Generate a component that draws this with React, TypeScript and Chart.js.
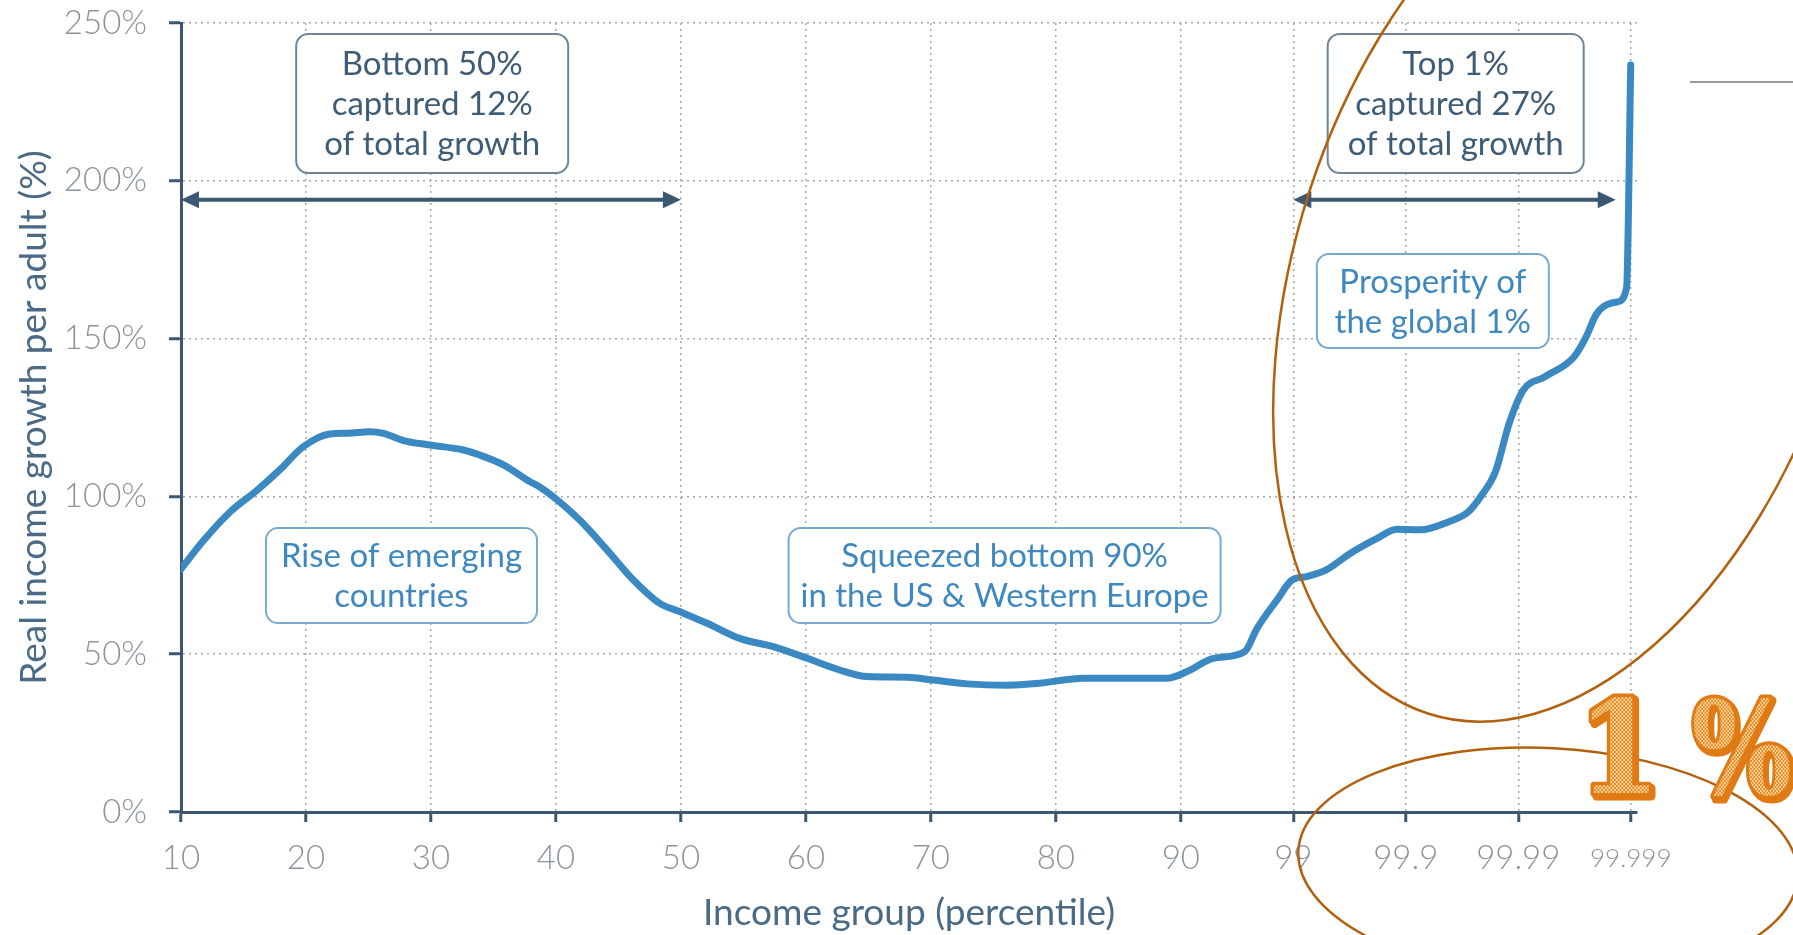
import React, { useEffect, useRef } from "react";
import { Chart, registerables } from "chart.js";

Chart.register(...registerables);

// ---------- data ----------
const percentiles = [
  10, 11.8, 13.9, 16.1, 17.9, 19.8, 21.9, 23.3, 25.1, 26.2, 27.8, 29.9, 32.6, 33.9, 35.8, 37.9,
  38.7, 40.1, 41.9, 44.1, 46.2, 48.3, 49.9, 52.1, 54.7, 57.4, 60.1, 62.7, 64.9, 68.1, 70.2,
  72.9, 76.1, 78.7, 82.2, 86.2, 88.9, 90.5, 92.6, 95.1, 96.1, 97.7, 98.9,
  99.24, 99.49, 99.69, 99.82, 99.88, 99.926, 99.958, 99.972, 99.979, 99.984, 99.988, 99.991,
  99.9942, 99.9968, 99.9975, 99.998, 99.99867, 99.99891, 99.999,
];
const growth = [
  77, 86, 95, 102, 108.4, 115.8, 119.8, 120, 120.5, 120, 117.7, 116.3, 114.7, 113.1, 110, 104.7,
  103, 98.9, 92.5, 83, 73.5, 66.1, 63.5, 59.8, 55, 52.4, 48.7, 45, 42.9, 42.7, 41.8,
  40.6, 40.2, 40.8, 42.4, 42.4, 42.4, 44.5, 48.7, 50.8, 58.2, 67.2, 73.5,
  74.6, 76.7, 82, 86.7, 89.6, 89.4, 91.9, 95, 100.5, 107.7, 123.3, 133.7,
  137.9, 144.2, 150.5, 158, 161.6, 166, 236.7,
];
const xTickPercentiles = [10, 20, 30, 40, 50, 60, 70, 80, 90, 99, 99.9, 99.99, 99.999];
const xTickLabels = ["10", "20", "30", "40", "50", "60", "70", "80", "90", "99", "99.9", "99.99", "99.999"];
const yTickValues = [0, 50, 100, 150, 200, 250];

const xTitle = "Income group (percentile)";
const yTitle = "Real income growth per adult (%)";

// annotation boxes: anchor percentile, anchor growth value
const boxLines = [
  ["Bottom 50%", "captured 12%", "of total growth"],
  ["Top 1%", "captured 27%", "of total growth"],
  ["Prosperity of", "the global 1%"],
  ["Rise of emerging", "countries"],
  ["Squeezed bottom 90%", "in the US & Western Europe"],
];
const boxAnchorP = [30.1, 99.964, 99.9425, 27.64, 75.9];
const boxAnchorV = [224.5, 224.5, 161.9, 74.9, 74.9];
const boxTone = ["dark", "dark", "blue", "blue", "blue"];
const boxW = [272, 256, 232, 271, 432];
const boxH = [139, 139, 94, 95, 95];

const arrowFrom = [10, 99];
const arrowTo = [50, 99.99864];
const arrowV = [194, 194];

// ---------- styles ----------
const FONT = "Lato, 'Noto Sans', sans-serif";
const LINE = "#3b89c3";
const AXIS = "#3c5771";
const GRID = "#a8a8a8";
const TICK = "#8b949c";
const TITLE = "#4a6a86";
const DARK_TXT = "#3e5c76";
const DARK_BORDER = "#6f8597";
const BLUE_TXT = "#3f88bf";
const BLUE_BORDER = "#78aad0";
const ORANGE_LINE = "#b2600e";

function pos(p: number) {
  return p <= 99 ? (p - 10) / 10 : 8.9 + 0.9 * -Math.log10(100 - p);
}

function roundRect(ctx: CanvasRenderingContext2D, x: number, y: number, w: number, h: number, r: number) {
  ctx.beginPath();
  ctx.moveTo(x + r, y);
  ctx.lineTo(x + w - r, y);
  ctx.arcTo(x + w, y, x + w, y + r, r);
  ctx.lineTo(x + w, y + h - r);
  ctx.arcTo(x + w, y + h, x + w - r, y + h, r);
  ctx.lineTo(x + r, y + h);
  ctx.arcTo(x, y + h, x, y + h - r, r);
  ctx.lineTo(x, y + r);
  ctx.arcTo(x, y, x + r, y, r);
  ctx.closePath();
}

const annotationPlugin = {
  id: "annotations",
  afterDatasetsDraw(chart: any) {
    const ctx: CanvasRenderingContext2D = chart.ctx;
    const xs = chart.scales.x;
    const ys = chart.scales.y;
    ctx.save();
    // arrows
    for (let i = 0; i < arrowFrom.length; i++) {
      const x1 = xs.getPixelForValue(pos(arrowFrom[i]));
      const x2 = xs.getPixelForValue(pos(arrowTo[i]));
      const y = ys.getPixelForValue(arrowV[i]);
      const hl = 18, hw = 8.5;
      ctx.strokeStyle = AXIS;
      ctx.fillStyle = AXIS;
      ctx.lineWidth = 4;
      ctx.beginPath();
      ctx.moveTo(x1 + hl - 2, y);
      ctx.lineTo(x2 - hl + 2, y);
      ctx.stroke();
      ctx.beginPath();
      ctx.moveTo(x1, y);
      ctx.lineTo(x1 + hl, y - hw);
      ctx.lineTo(x1 + hl, y + hw);
      ctx.closePath();
      ctx.fill();
      ctx.beginPath();
      ctx.moveTo(x2, y);
      ctx.lineTo(x2 - hl, y - hw);
      ctx.lineTo(x2 - hl, y + hw);
      ctx.closePath();
      ctx.fill();
    }
    // boxes
    for (let i = 0; i < boxLines.length; i++) {
      const cx = xs.getPixelForValue(pos(boxAnchorP[i]));
      const cy = ys.getPixelForValue(boxAnchorV[i]);
      const w = boxW[i], h = boxH[i];
      const dark = boxTone[i] === "dark";
      roundRect(ctx, cx - w / 2, cy - h / 2, w, h, 12);
      ctx.fillStyle = "#ffffff";
      ctx.fill();
      ctx.lineWidth = 2;
      ctx.strokeStyle = dark ? DARK_BORDER : BLUE_BORDER;
      ctx.stroke();
      ctx.fillStyle = dark ? DARK_TXT : BLUE_TXT;
      ctx.font = `400 33px ${FONT}`;
      ctx.textAlign = "center";
      ctx.textBaseline = "middle";
      const n = boxLines[i].length;
      const lh = 40;
      for (let j = 0; j < n; j++) {
        ctx.fillText(boxLines[i][j], cx, cy + (j - (n - 1) / 2) * lh + 1);
      }
    }
    ctx.restore();
  },
  afterDraw(chart: any) {
    const ctx: CanvasRenderingContext2D = chart.ctx;
    ctx.save();
    // hand-drawn orange ellipses
    ctx.strokeStyle = ORANGE_LINE;
    ctx.lineWidth = 2.5;
    ctx.beginPath();
    ctx.ellipse(1570, 276, 460, 274, -72 * Math.PI / 180, 0, Math.PI * 2);
    ctx.stroke();
    ctx.beginPath();
    ctx.ellipse(1548, 864, 250, 116, 3 * Math.PI / 180, 0, Math.PI * 2);
    ctx.stroke();
    // grey line top right
    ctx.strokeStyle = "#9a9a9a";
    ctx.lineWidth = 2;
    ctx.beginPath();
    ctx.moveTo(1690, 82);
    ctx.lineTo(1793, 82);
    ctx.stroke();
    // checkered orange "1%"
    const pc = document.createElement("canvas");
    pc.width = 4;
    pc.height = 4;
    const pctx = pc.getContext("2d")!;
    pctx.fillStyle = "#ea8a1e";
    pctx.fillRect(0, 0, 4, 4);
    pctx.fillStyle = "#f8d3a0";
    pctx.fillRect(0, 0, 2, 2);
    pctx.fillRect(2, 2, 2, 2);
    const pattern = ctx.createPattern(pc, "repeat")!;
    const drawGlyph = (txt: string, left: number, base: number, targetW: number) => {
      ctx.save();
      ctx.font = `bold 130px 'DejaVu Serif', serif`;
      ctx.textBaseline = "alphabetic";
      ctx.textAlign = "left";
      const m = ctx.measureText(txt);
      const gw = m.actualBoundingBoxRight + m.actualBoundingBoxLeft;
      const sx = targetW / gw;
      ctx.translate(left, base);
      ctx.scale(sx, 1);
      ctx.translate(m.actualBoundingBoxLeft, 0);
      ctx.lineJoin = "round";
      ctx.strokeStyle = "#df7a14";
      ctx.lineWidth = 9;
      ctx.strokeText(txt, 3, 3);
      ctx.lineWidth = 7;
      ctx.strokeText(txt, 0, 0);
      ctx.fillStyle = pattern;
      ctx.fillText(txt, 0, 0);
      ctx.restore();
    };
    drawGlyph("1", 1591, 793, 58);
    drawGlyph("%", 1694, 794, 96);
    ctx.restore();
  },
};

export default function App() {
  const ref = useRef<HTMLCanvasElement>(null);
  useEffect(() => {
    const canvas = ref.current!;
    const data = percentiles.map((p, i) => ({ x: pos(p), y: growth[i] }));
    const tickFont = { family: FONT, size: 33, weight: 300 as any, lineHeight: "37px" };
    const chart = new Chart(canvas, {
      type: "line",
      data: {
        datasets: [
          {
            data,
            borderColor: LINE,
            borderWidth: 7,
            pointRadius: 0,
            fill: false,
            cubicInterpolationMode: "monotone",
            borderCapStyle: "round",
            borderJoinStyle: "round",
          } as any,
        ],
      },
      options: {
        responsive: false,
        animation: false,
        devicePixelRatio: 1,
        layout: { padding: { left: 0, top: 23, right: 156, bottom: 0 } },
        plugins: { legend: { display: false }, tooltip: { enabled: false } },
        scales: {
          x: {
            type: "linear",
            min: 0,
            max: 11.65,
            afterBuildTicks: (s: any) => {
              s.ticks = xTickPercentiles.map((p) => ({ value: pos(p) }));
            },
            afterFit: (s: any) => {
              s.height = 123;
              s.paddingLeft = 0;
              s.paddingRight = 0;
            },
            ticks: {
              autoSkip: false,
              maxRotation: 0,
              minRotation: 0,
              padding: 18,
              color: TICK,
              font: (c: any) =>
                c.index === xTickLabels.length - 1
                  ? { family: FONT, size: 26, weight: 300 as any, lineHeight: "37px" }
                  : tickFont,
              callback: (_v: any, i: number) => xTickLabels[i],
            },
            grid: {
              color: GRID,
              lineWidth: 1.5,
              drawTicks: true,
              tickLength: 10,
              tickWidth: 3,
              tickColor: AXIS,
            },
            border: { display: true, color: AXIS, width: 3, dash: [2, 4] },
            title: {
              display: true,
              text: xTitle,
              color: TITLE,
              font: { family: FONT, size: 37, weight: 400 as any },
              padding: { top: 0, bottom: 0 },
            },
          },
          y: {
            type: "linear",
            min: 0,
            max: 250,
            afterBuildTicks: (s: any) => {
              s.ticks = yTickValues.map((v) => ({ value: v }));
            },
            afterFit: (s: any) => {
              s.width = 181;
              s.paddingTop = 0;
              s.paddingBottom = 0;
            },
            ticks: {
              padding: 22,
              color: TICK,
              font: tickFont,
              callback: (v: any) => `${v}%`,
            },
            grid: {
              color: GRID,
              lineWidth: 1.5,
              drawTicks: true,
              tickLength: 12,
              tickWidth: 3,
              tickColor: AXIS,
            },
            border: { display: true, color: AXIS, width: 3, dash: [2, 4] },
            title: {
              display: true,
              text: yTitle,
              color: TITLE,
              font: { family: FONT, size: 37, weight: 400 as any },
              padding: { top: 12, bottom: 0 },
            },
          },
        },
      } as any,
      plugins: [annotationPlugin as any],
    });
    return () => chart.destroy();
  }, []);
  return (
    <div style={{ position: "fixed", left: 0, top: 0, width: 1793, height: 935, background: "#ffffff" }}>
      <canvas ref={ref} width={1793} height={935} style={{ display: "block", width: 1793, height: 935 }} />
    </div>
  );
}
